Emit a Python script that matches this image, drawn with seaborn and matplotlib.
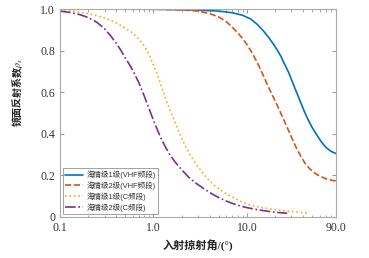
import numpy as np
import pandas as pd
import seaborn as sns
import matplotlib.pyplot as plt

# values (grazing angle in degrees -> reflection coefficient)
x_vhf1 = [0.1, 1, 3, 5, 7, 9, 11, 13, 15, 17, 19, 21, 23, 25, 28, 31, 34, 37, 41, 45, 50,
          56, 63, 70, 80, 90]
y_vhf1 = [1.0, 0.999, 0.995, 0.99, 0.982, 0.97, 0.952, 0.925, 0.895, 0.865, 0.835, 0.805,
          0.775, 0.74, 0.695, 0.645, 0.60, 0.56, 0.51, 0.47, 0.43, 0.395, 0.36, 0.335, 0.315, 0.305]

x_vhf2 = [0.1, 1, 2, 3, 4, 5, 6, 7, 8, 9, 10, 11, 12, 13.5, 15, 17, 19, 21, 23, 25, 28, 31,
          34, 38, 42, 47, 53, 60, 70, 80, 90]
y_vhf2 = [1.0, 0.999, 0.996, 0.99, 0.978, 0.962, 0.94, 0.912, 0.885, 0.858, 0.83, 0.80, 0.77,
          0.725, 0.68, 0.625, 0.58, 0.54, 0.50, 0.465, 0.415, 0.37, 0.33, 0.29, 0.258, 0.232,
          0.212, 0.197, 0.184, 0.177, 0.173]

x_c1 = [0.1, 0.15, 0.2, 0.25, 0.3, 0.35, 0.4, 0.45, 0.5, 0.6, 0.7, 0.8, 0.9, 1.0, 1.1, 1.2,
        1.3, 1.4, 1.55, 1.7, 1.85, 2.0, 2.2, 2.5, 2.8, 3.2, 3.7, 4.3, 5, 6, 7.2, 8.5, 10, 12,
        15, 20, 27, 35, 47]
y_c1 = [0.995, 0.988, 0.978, 0.968, 0.957, 0.946, 0.933, 0.92, 0.907, 0.885, 0.855, 0.822,
        0.78, 0.73, 0.685, 0.635, 0.59, 0.55, 0.50, 0.455, 0.415, 0.38, 0.34, 0.295, 0.26,
        0.225, 0.19, 0.16, 0.135, 0.112, 0.093, 0.076, 0.062, 0.052, 0.044, 0.035, 0.028,
        0.023, 0.019]

x_c2 = [0.1, 0.13, 0.16, 0.19, 0.22, 0.25, 0.3, 0.35, 0.4, 0.45, 0.5, 0.55, 0.6, 0.7, 0.8,
        0.9, 1.0, 1.1, 1.2, 1.35, 1.5, 1.7, 2.0, 2.4, 2.9, 3.5, 4.2, 5, 6, 7, 8.5, 10, 13, 17,
        22, 27]
y_c2 = [0.99, 0.983, 0.974, 0.963, 0.95, 0.935, 0.905, 0.87, 0.835, 0.80, 0.765, 0.735, 0.705,
        0.645, 0.58, 0.52, 0.465, 0.42, 0.38, 0.335, 0.30, 0.265, 0.228, 0.19, 0.16, 0.135,
        0.112, 0.093, 0.077, 0.065, 0.053, 0.045, 0.035, 0.027, 0.021, 0.018]

labels = ['海情级1级(VHF频段)', '海情级2级(VHF频段)', '海情级1级(C频段)', '海情级2级(C频段)']
colors = ['#0072BD', '#D95319', '#EDB120', '#7E2F8E']
styles = ['-', '--', ':', '-.']

xticks = [0.1, 1, 10, 90]
xticklabels = ['0.1', '1.0', '10.0', '90.0']
yticks = [0, 0.2, 0.4, 0.6, 0.8, 1.0]
yticklabels = ['0', '0.2', '0.4', '0.6', '0.8', '1.0']

sns.set_style('ticks')
plt.rcParams['font.family'] = ['Liberation Serif', 'Noto Sans CJK SC']
plt.rcParams['mathtext.fontset'] = 'stix'

fig = plt.figure(figsize=(3.69, 2.58), dpi=100)
ax = fig.add_axes([0.1626, 0.159, 0.748, 0.806])

series = [(x_vhf1, y_vhf1), (x_vhf2, y_vhf2), (x_c1, y_c1), (x_c2, y_c2)]
for (xs, ys), lab, col, ls in zip(series, labels, colors, styles):
    sns.lineplot(x=xs, y=ys, ax=ax, color=col, linestyle=ls, linewidth=1.2,
                 label=lab, sort=False, estimator=None)

ax.set_xscale('log')
ax.set_xlim(0.1, 90)
ax.set_ylim(0, 1)
ax.set_xticks(xticks)
ax.set_xticklabels(xticklabels)
ax.set_yticks(yticks)
ax.set_yticklabels(yticklabels)
ax.tick_params(which='both', direction='in', top=True, right=True, labelsize=8.5,
               color='#999999', labelcolor='#333333')
ax.tick_params(which='major', length=3)
ax.tick_params(which='minor', length=1.8)
for sp in ax.spines.values():
    sp.set_color('#aaaaaa')
    sp.set_linewidth(0.8)

# CJK text goes through the CJK family (mathtext does not fall back between fonts)
ax.set_xlabel('入射掠射角/(°)', fontsize=8, fontweight='bold', labelpad=4,
              family=['Liberation Serif', 'Noto Sans CJK SC'], color='#222222')
ax.set_ylabel(r'镜面反射系数$\rho_s$', fontsize=7.2, fontweight='bold',
              family=['Noto Sans CJK SC'], color='#222222')
ax.yaxis.set_label_coords(-0.125, 0.6)

leg = ax.legend(loc='lower left', frameon=True, fancybox=False,
                handlelength=2.4, borderpad=0.3, labelspacing=0.3, handletextpad=0.4,
                borderaxespad=0.4, prop={'family': ['Liberation Sans', 'Noto Sans CJK SC'], 'size': 5.4})
leg.get_frame().set_edgecolor('#777777')
leg.get_frame().set_linewidth(0.6)
for t in leg.get_texts():
    t.set_color('#333333')

fig.savefig('out.png', dpi=100)
